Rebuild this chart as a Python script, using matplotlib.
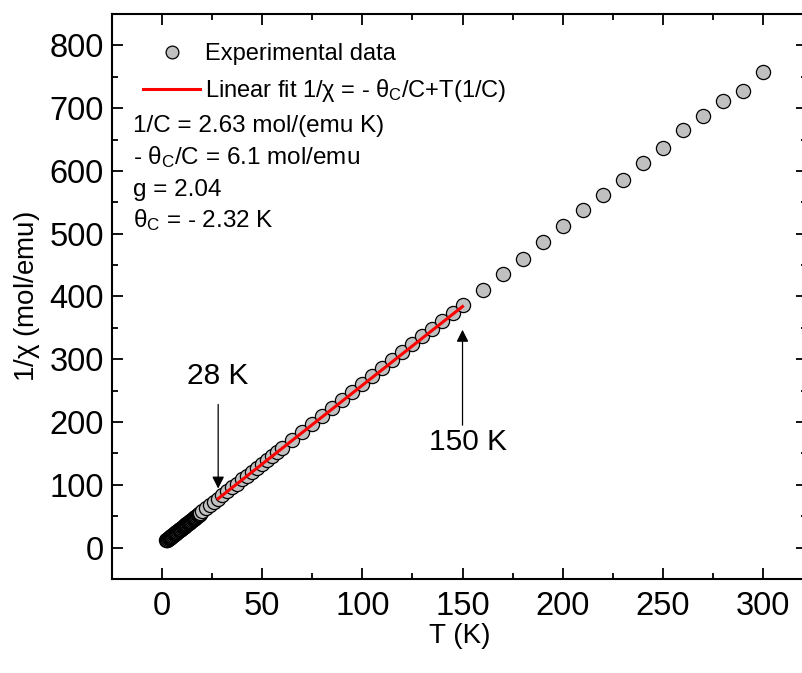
import matplotlib.pyplot as plt
from matplotlib.ticker import MultipleLocator

plt.rcParams['font.family'] = ['Liberation Sans', 'DejaVu Sans']
plt.rcParams['mathtext.fontset'] = 'custom'
plt.rcParams['mathtext.rm'] = 'Liberation Sans'
plt.rcParams['mathtext.it'] = 'Liberation Sans'

# measured 1/chi data (T in K, 1/chi in mol/emu)
T_data = [2.0, 2.25, 2.5, 2.75, 3.0, 3.25, 3.5, 3.75,
          4.0, 4.25, 4.5, 4.75, 5.0, 5.25, 5.5, 5.75,
          6.0, 6.25, 6.5, 6.75, 7.0, 7.25, 7.5, 7.75,
          8.0, 8.25, 8.5, 8.75, 9.0, 9.25, 9.5, 9.75,
          10.0, 10.25, 10.5, 10.75, 11.0, 11.25, 11.5, 11.75,
          12.0, 12.25, 12.5, 12.75, 13.0, 13.25, 13.5, 13.75,
          14.0, 14.25, 14.5, 14.75, 15.0, 15.25, 15.5, 15.75,
          16.0, 16.25, 16.5, 16.75, 17.0, 17.25, 17.5, 17.75,
          18.0, 18.25, 18.5, 18.75, 19.0,
          20, 22, 24, 26, 28,
          30, 32.5, 35, 37.5, 40, 42.5, 45, 47.5, 50, 52.5, 55, 57.5, 60,
          65, 70, 75, 80, 85, 90, 95, 100, 105, 110, 115, 120, 125, 130, 135,
          140, 145, 150,
          160, 170, 180, 190, 200, 210, 220, 230, 240, 250, 260, 270, 280,
          290, 300]
inv_chi = [11.5, 12.1, 12.8, 13.4, 14.0, 14.7, 15.3, 15.9,
           16.6, 17.2, 17.8, 18.5, 19.1, 19.7, 20.3, 21.0,
           21.6, 22.2, 22.9, 23.5, 24.1, 24.8, 25.4, 26.0,
           26.6, 27.3, 27.9, 28.5, 29.2, 29.8, 30.4, 31.1,
           31.7, 32.3, 33.0, 33.6, 34.2, 34.9, 35.5, 36.1,
           36.8, 37.4, 38.0, 38.7, 39.3, 39.9, 40.6, 41.2,
           41.8, 42.5, 43.1, 43.7, 44.3, 45.0, 45.6, 46.2,
           46.9, 47.5, 48.1, 48.8, 49.4, 50.0, 50.7, 51.3,
           51.9, 52.6, 53.2, 53.8, 54.5,
           57.6, 62.6, 67.7, 72.8, 78.0,
           83.0, 89.5, 95.8, 102.0, 108.5, 114.8, 121.0, 127.5, 133.8, 140.0,
           146.5, 152.8, 159.0,
           172.0, 184.5, 197.0, 210.0, 222.5, 235.0, 248.0, 260.5, 273.0,
           286.0, 298.5, 311.0, 324.0, 336.5, 349.0, 361.5, 374.0, 386.5,
           411, 436, 460, 487, 513, 537, 562, 586, 612, 636, 665, 688, 712,
           727, 757]

# linear fit over 28-150 K
fit_T = [28, 150]
fit_y = [78.0, 384.0]

info = ['1/C = 2.63 mol/(emu K)',
        r'- $\theta_C$/C = 6.1 mol/emu',
        'g = 2.04',
        r'$\theta_C$ = - 2.32 K']
info_y = [0.802, 0.747, 0.689, 0.636]

fig = plt.figure(figsize=(8.03, 6.73), dpi=100)
ax = fig.add_axes([0.1395, 0.1397, 0.8655, 0.8395])

ax.plot(T_data, inv_chi, 'o', ms=10.2, mfc='#c0c0c0', mec='black', mew=0.9,
        label='Experimental data', zorder=2)
ax.plot(fit_T, fit_y, '-', color='red', lw=2.2,
        label=r'Linear fit 1/$\chi$ = - $\theta_C$/C+T(1/C)', zorder=3)

ax.set_xlim(-25, 322)
ax.set_ylim(-50, 850)
ax.xaxis.set_major_locator(MultipleLocator(50))
ax.xaxis.set_minor_locator(MultipleLocator(25))
ax.yaxis.set_major_locator(MultipleLocator(100))
ax.yaxis.set_minor_locator(MultipleLocator(50))
ax.tick_params(which='both', direction='in', top=True, right=True, width=1.3,
               labelsize=23.5)
ax.tick_params(which='major', length=8)
ax.tick_params(which='minor', length=4.5)
ax.tick_params(axis='x', pad=9)
ax.tick_params(axis='y', pad=6)
for s in ax.spines.values():
    s.set_linewidth(1.5)

ax.set_xlabel('T (K)', fontsize=20)
ax.set_ylabel(r'1/$\chi$ (mol/emu)', fontsize=20)
ax.xaxis.set_label_coords(0.5, -0.078)
ax.yaxis.set_label_coords(-0.101, 0.5)

leg = ax.legend(loc='upper left', bbox_to_anchor=(0.045, 0.948), frameon=False,
                fontsize=17, handlelength=2.4, handletextpad=0.2,
                labelspacing=0.5, borderaxespad=0, borderpad=0,
                markerscale=0.9)

for s, yy in zip(info, info_y):
    ax.text(0.030, yy, s, transform=ax.transAxes, fontsize=17.5,
            va='center', ha='left')

ax.annotate('', xy=(28, 94), xytext=(28, 228),
            arrowprops=dict(arrowstyle='-|>', color='black', lw=0.9,
                            mutation_scale=18, shrinkA=0, shrinkB=0))
ax.text(28, 273, '28 K', fontsize=21.5, ha='center', va='center')
ax.annotate('', xy=(150, 347), xytext=(150, 195),
            arrowprops=dict(arrowstyle='-|>', color='black', lw=0.9,
                            mutation_scale=18, shrinkA=0, shrinkB=0))
ax.text(152.5, 169, '150 K', fontsize=21.5, ha='center', va='center')

fig.savefig('out.png', dpi=100)
